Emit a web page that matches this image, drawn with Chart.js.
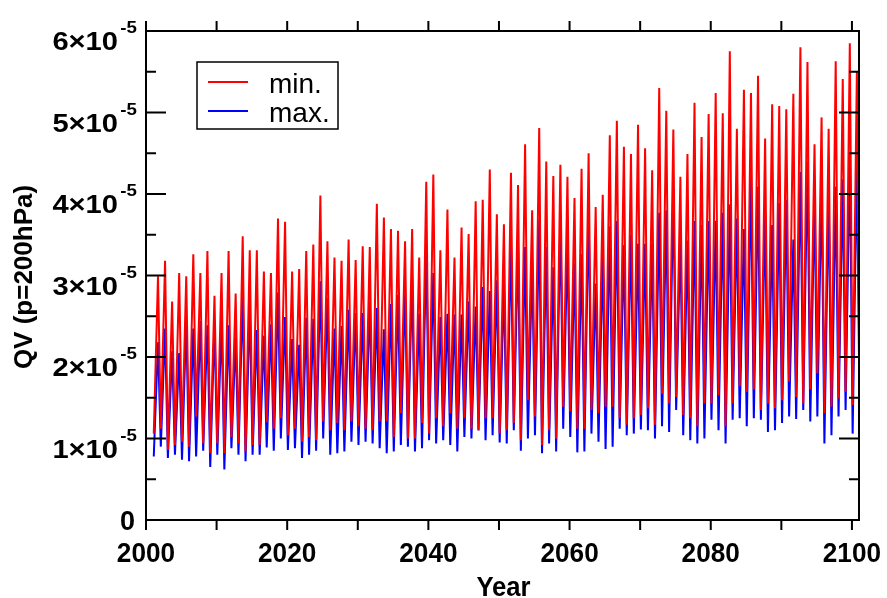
<!DOCTYPE html>
<html>
<head>
<meta charset="utf-8">
<script src="https://cdn.jsdelivr.net/npm/chart.js@4.4.1/dist/chart.umd.min.js"></script>
<style>
  html, body { margin: 0; padding: 0; background: #fff; }
  #wrap { width: 887px; height: 598px; }
</style>
</head>
<body>
<div id="wrap"><canvas id="qvChart" width="887" height="598"></canvas></div>
<script>
// QV at 200 hPa, yearly cycle: values in units of 1e-5
const EXP = 1e-5;
const years = Array.from({ length: 100 }, (_, i) => 2001 + i);
const LOW_AT = 0.1;   // fraction of the year where the cycle bottoms out
const PEAK_AT = 0.7;  // fraction of the year where the cycle peaks

const minPeak = [
  2.99, 3.18, 2.68, 3.03, 2.99, 3.26, 3.03, 3.30, 2.75, 3.03,
  3.30, 2.78, 3.48, 3.31, 3.31, 3.05, 3.03, 3.70, 3.66, 3.05,
  3.08, 3.30, 3.38, 3.98, 3.42, 3.22, 3.18, 3.44, 3.19, 3.36,
  3.35, 3.88, 3.71, 3.57, 3.55, 3.42, 3.57, 3.22, 4.15, 4.24,
  3.31, 3.81, 3.22, 3.59, 3.51, 3.91, 3.93, 4.30, 3.75, 3.63,
  4.26, 4.11, 4.61, 3.80, 4.81, 4.40, 4.22, 4.36, 4.21, 3.95,
  4.31, 4.50, 3.84, 3.99, 4.72, 4.90, 4.58, 4.49, 4.85, 4.56,
  4.29, 5.30, 5.02, 4.79, 4.21, 4.49, 5.12, 4.70, 4.98, 5.24,
  4.99, 5.75, 4.80, 5.28, 5.24, 5.45, 4.68, 5.10, 5.08, 5.04,
  5.23, 5.80, 5.62, 4.61, 4.94, 4.80, 5.63, 5.41, 5.85, 5.50
];
const minLow = [
  1.06, 1.12, 0.86, 0.92, 0.96, 0.90, 1.27, 0.94, 0.82, 0.94,
  0.82, 1.02, 0.94, 0.84, 0.92, 0.92, 1.20, 1.12, 1.25, 1.04,
  1.12, 0.96, 1.02, 0.98, 1.21, 1.10, 1.19, 1.10, 1.21, 1.15,
  1.12, 1.10, 1.21, 1.21, 1.02, 1.31, 1.00, 1.00, 1.19, 1.06,
  1.25, 1.15, 1.31, 1.12, 1.25, 1.12, 1.10, 1.25, 1.25, 1.06,
  1.10, 1.19, 0.98, 1.47, 1.27, 0.92, 1.10, 1.00, 1.39, 1.33,
  1.12, 1.12, 1.35, 1.31, 1.39, 1.39, 1.25, 1.17, 1.25, 1.29,
  1.37, 1.17, 1.55, 1.43, 1.51, 1.29, 1.25, 1.15, 1.43, 1.43,
  1.53, 1.15, 1.43, 1.64, 1.57, 1.60, 1.35, 1.43, 1.37, 1.47,
  1.70, 1.51, 1.43, 1.60, 1.80, 1.31, 1.39, 1.49, 1.57, 1.41
];
const maxPeak = [
  2.18, 2.35, 2.07, 2.05, 2.45, 2.35, 2.44, 2.39, 2.39, 2.44,
  2.39, 2.24, 2.79, 2.62, 2.33, 2.26, 2.40, 2.79, 2.49, 2.22,
  2.15, 2.48, 2.47, 2.93, 2.72, 2.35, 2.38, 2.58, 2.54, 2.54,
  2.67, 2.60, 2.34, 2.65, 2.76, 2.84, 2.97, 2.53, 3.35, 3.03,
  2.49, 2.53, 2.52, 2.52, 2.68, 2.62, 2.86, 2.81, 2.94, 2.90,
  3.39, 3.39, 3.35, 3.15, 3.69, 3.35, 3.10, 3.67, 3.42, 3.15,
  3.26, 3.84, 2.90, 3.26, 3.60, 3.67, 3.37, 3.50, 3.39, 3.39,
  3.39, 3.77, 3.80, 4.07, 3.44, 3.43, 3.67, 3.62, 3.67, 3.67,
  3.77, 3.87, 3.70, 3.57, 4.21, 4.09, 3.75, 3.62, 3.89, 3.93,
  3.44, 4.27, 4.40, 3.97, 4.12, 4.01, 4.09, 4.18, 4.50, 4.40
];
const maxLow = [
  0.78, 0.90, 0.76, 0.80, 0.74, 0.72, 0.78, 0.85, 0.65, 0.80,
  0.62, 0.88, 0.80, 0.72, 0.80, 0.80, 0.89, 0.85, 1.00, 0.86,
  0.88, 0.76, 0.80, 0.85, 1.00, 0.80, 0.82, 0.84, 0.96, 0.92,
  0.96, 0.94, 0.88, 0.82, 0.84, 0.92, 0.90, 0.84, 0.88, 0.98,
  0.94, 0.98, 0.92, 0.84, 1.02, 1.00, 1.10, 0.98, 1.04, 0.95,
  0.94, 1.10, 0.85, 1.00, 1.04, 0.82, 0.94, 0.84, 1.12, 1.02,
  0.83, 0.84, 1.06, 0.96, 0.87, 0.90, 1.12, 1.04, 1.06, 1.11,
  1.10, 1.00, 1.15, 1.08, 1.35, 1.04, 0.98, 0.94, 1.00, 1.23,
  1.10, 0.94, 1.23, 1.25, 1.15, 1.25, 1.23, 1.08, 1.10, 1.19,
  1.27, 1.24, 1.35, 1.21, 1.27, 0.94, 1.04, 1.27, 1.35, 1.06
];
// last sample at the right edge of the record
const minTail = 2.4;
const maxTail = 2.0;

const xTicks = [2000, 2010, 2020, 2030, 2040, 2050, 2060, 2070, 2080, 2090, 2100];
const xLabels = [2000, 2020, 2040, 2060, 2080, 2100];
const yMajor = [0, 1, 2, 3, 4, 5, 6];
const yMinor = [0.5, 1.5, 2.5, 3.5, 4.5, 5.5];

function cycle(lows, peaks, tail) {
  const pts = [];
  years.forEach((yr, i) => {
    pts.push({ x: yr + LOW_AT, y: lows[i] * EXP });
    pts.push({ x: yr + PEAK_AT, y: peaks[i] * EXP });
  });
  pts.push({ x: 2101, y: tail * EXP });
  return pts;
}

function txt(ctx, s, x, y, font, align, sx) {
  ctx.save();
  ctx.translate(x, y);
  ctx.scale(sx || 1, 1);
  ctx.font = font;
  ctx.textAlign = align;
  ctx.textBaseline = 'alphabetic';
  ctx.fillText(s, 0, 0);
  ctx.restore();
}

// frame, ticks, labels and legend box in the xmgrace look
const frame = {
  id: 'frame',
  afterDraw(chart) {
    const { ctx, chartArea: a, scales: { x, y } } = chart;
    ctx.save();
    ctx.strokeStyle = '#000';
    ctx.fillStyle = '#000';
    ctx.lineWidth = 2;
    ctx.strokeRect(a.left, a.top, a.right - a.left, a.bottom - a.top);

    ctx.beginPath();
    for (const v of yMajor) {
      const py = y.getPixelForValue(v * EXP);
      ctx.moveTo(a.left, py); ctx.lineTo(a.left + 20, py);
      ctx.moveTo(a.right, py); ctx.lineTo(a.right - 20, py);
    }
    for (const v of yMinor) {
      const py = y.getPixelForValue(v * EXP);
      ctx.moveTo(a.left, py); ctx.lineTo(a.left + 10, py);
      ctx.moveTo(a.right, py); ctx.lineTo(a.right - 10, py);
    }
    for (const v of xTicks) {
      const px = x.getPixelForValue(v);
      ctx.moveTo(px, a.bottom); ctx.lineTo(px, a.bottom + 10);
      ctx.moveTo(px, a.top); ctx.lineTo(px, a.top - 10);
    }
    ctx.stroke();

    for (const v of xLabels) {
      txt(ctx, String(v), x.getPixelForValue(v), a.bottom + 42, 'bold 27px "Liberation Sans"', 'center', 0.97);
    }
    for (const v of yMajor) {
      const py = y.getPixelForValue(v * EXP);
      if (v === 0) {
        txt(ctx, '0', a.left - 11, py + 10, 'bold 27px "Liberation Sans"', 'right', 1);
        continue;
      }
      txt(ctx, v + '\u00d710', a.left - 28, py + 19, 'bold 26px "Liberation Sans"', 'right', 1.12);
      txt(ctx, '-5', a.left - 9, py + 2, 'bold 17px "Liberation Sans"', 'right', 1.1);
    }

    txt(ctx, 'Year', (a.left + a.right) / 2 + 1, 596, 'bold 27px "Liberation Sans"', 'center', 0.95);
    ctx.save();
    ctx.translate(32, 277);
    ctx.rotate(-Math.PI / 2);
    txt(ctx, 'QV (p=200hPa)', 0, 0, 'bold 26px "Liberation Sans"', 'center', 1);
    ctx.restore();

    // legend
    ctx.lineWidth = 1.5;
    ctx.strokeRect(197, 62, 141, 67);
    for (const ds of chart.data.datasets) {
      const ly = ds.label === 'min.' ? 82 : 111;
      ctx.strokeStyle = ds.borderColor;
      ctx.lineWidth = 2;
      ctx.beginPath();
      ctx.moveTo(208, ly); ctx.lineTo(248, ly);
      ctx.stroke();
      txt(ctx, ds.label, 269, ly + 11, '28px "Liberation Sans"', 'left', 1);
    }
    ctx.restore();
  }
};

// red is listed first, so Chart.js paints it on top of the blue one
new Chart(document.getElementById('qvChart'), {
  type: 'line',
  data: {
    datasets: [
      { label: 'min.', data: cycle(minLow, minPeak, minTail), borderColor: '#ff0000' },
      { label: 'max.', data: cycle(maxLow, maxPeak, maxTail), borderColor: '#0000ff' }
    ]
  },
  options: {
    responsive: false,
    animation: false,
    layout: { padding: { left: 146, right: 28, top: 31, bottom: 78 } },
    elements: {
      point: { radius: 0 },
      line: { borderWidth: 2, tension: 0 }
    },
    scales: {
      x: { type: 'linear', min: 2000, max: 2101, display: false },
      y: { min: 0, max: 6 * EXP, display: false }
    },
    plugins: { legend: { display: false }, tooltip: { enabled: false } }
  },
  plugins: [frame]
});
</script>
</body>
</html>
